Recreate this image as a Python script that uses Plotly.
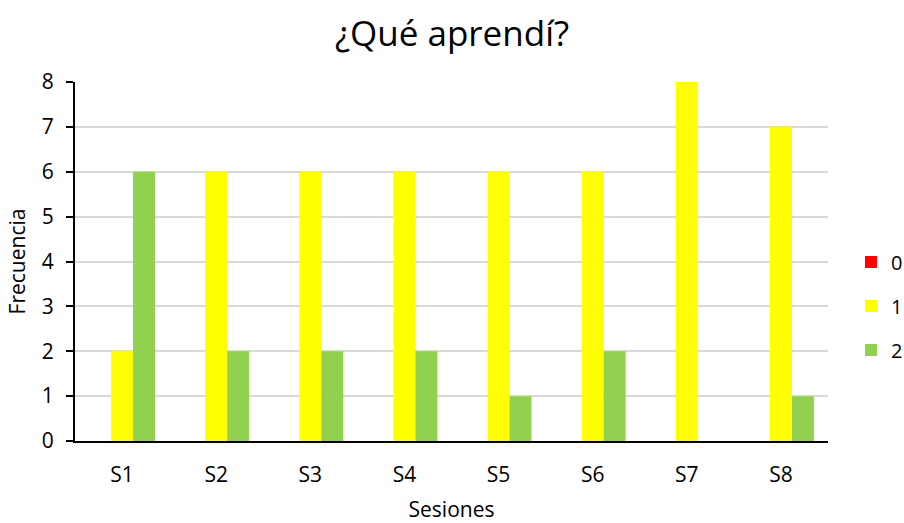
import plotly.graph_objects as go

sesiones = ["S1", "S2", "S3", "S4", "S5", "S6", "S7", "S8"]
serie_0 = [0, 0, 0, 0, 0, 0, 0, 0]
serie_1 = [2, 6, 6, 6, 6, 6, 8, 7]
serie_2 = [6, 2, 2, 2, 1, 2, 0, 1]

nombres = ["0", "1", "2"]
colores = ["#FF0000", "#FFFF00", "#92D050"]
valores = [serie_0, serie_1, serie_2]

font_family = "'Open Sans', 'Noto Sans', sans-serif"

fig = go.Figure()
for nombre, color, vals in zip(nombres, colores, valores):
    fig.add_trace(go.Bar(
        x=sesiones, y=vals, name=nombre, legendgroup=nombre,
        marker=dict(color=color, line=dict(width=0)),
    ))

fig.update_layout(
    width=904, height=523,
    paper_bgcolor="white", plot_bgcolor="white",
    margin=dict(l=75, r=76, t=82, b=82, autoexpand=False),
    barmode="group", bargap=0.3, bargroupgap=0,
    font=dict(family=font_family, size=21, color="#000000"),
    title=dict(text="¿Qué aprendí?", x=0.5, xanchor="center",
               y=0.935, yanchor="middle",
               font=dict(size=35, family=font_family, color="#000000")),
    legend=dict(x=1.0305, xanchor="left", y=0.376, yanchor="middle",
                traceorder="grouped", tracegroupgap=15,
                font=dict(size=20), itemwidth=30,
                bgcolor="rgba(0,0,0,0)"),
    xaxis=dict(
        title=dict(text="Sesiones", font=dict(size=21), standoff=18),
        showline=True, linecolor="#000000", linewidth=2,
        ticks="", showgrid=False, ticklabelstandoff=14,
    ),
    yaxis=dict(
        title=dict(text="Frecuencia", font=dict(size=21), standoff=10),
        range=[0, 8], dtick=1,
        showline=True, linecolor="#000000", linewidth=2,
        ticks="outside", ticklen=7, tickwidth=2, tickcolor="#000000",
        ticklabelstandoff=8,
        showgrid=True, gridcolor="#D9D9D9", gridwidth=1.5,
        zeroline=False,
    ),
)

fig.write_html("out.html")
